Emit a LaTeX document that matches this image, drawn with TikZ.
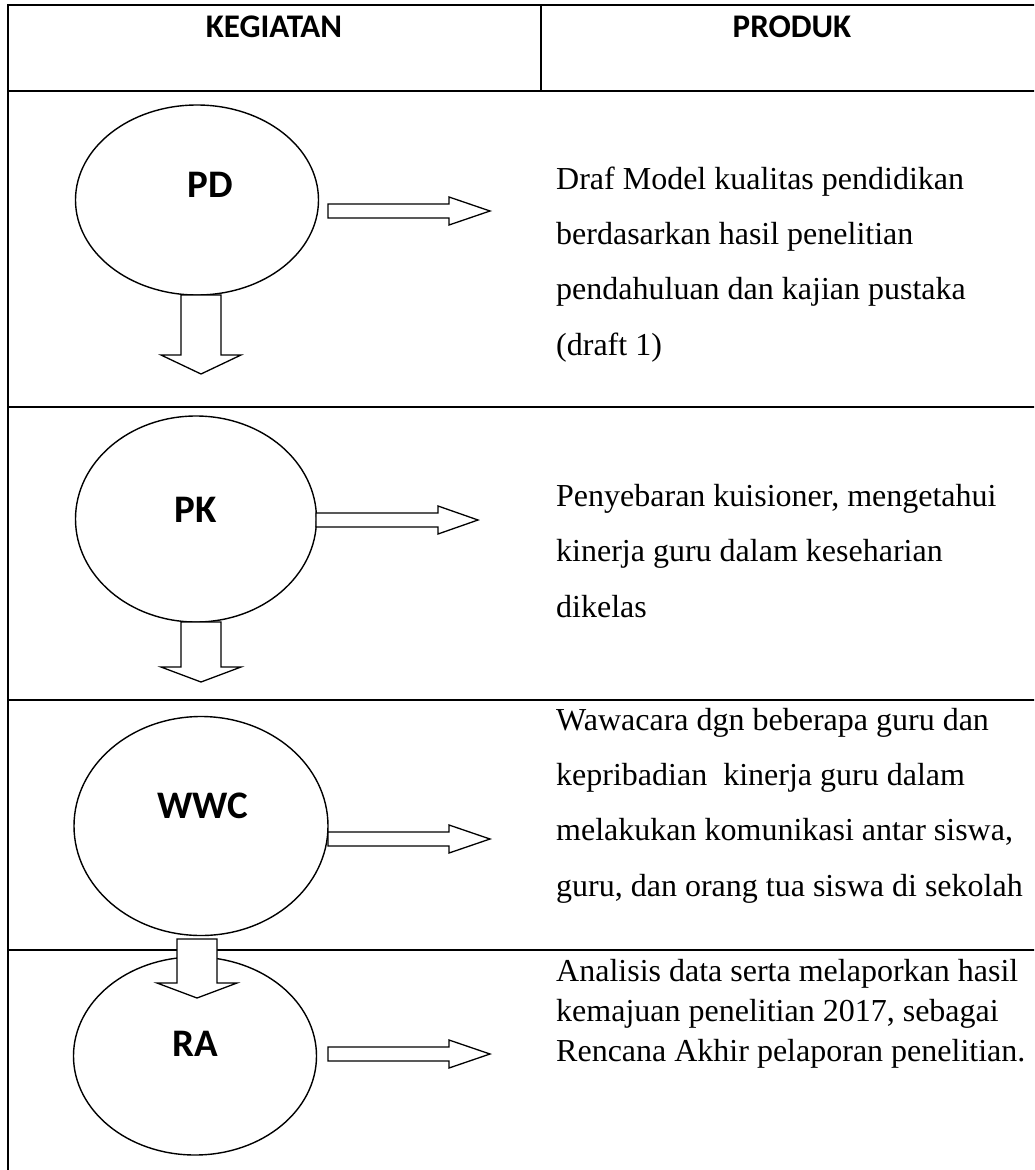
\documentclass[tikz,border=0pt]{standalone}
\usepackage{fontspec}
\setmainfont{Liberation Serif}
\newfontfamily\carlito{Carlito}
\usetikzlibrary{shapes.geometric}
\tikzset{
  tline/.style={line width=2.4pt, line cap=rect},
  oval/.style={draw, ellipse, line width=1.4pt, inner sep=0pt},
  ovallabel/.style={font=\carlito\bfseries\fontsize{39}{39}\selectfont, anchor=base, inner sep=0pt},
  headtxt/.style={font=\carlito\bfseries\fontsize{33}{33}\selectfont, anchor=base, inner sep=0pt},
  prod/.style={font=\fontsize{32}{55.3}\selectfont, anchor=base west, align=left, inner sep=0pt},
  prodtight/.style={font=\fontsize{32}{40}\selectfont, anchor=base west, align=left, inner sep=0pt},
  blockarrow/.style={draw, fill=white, line width=1.3pt, line join=miter},
}
\begin{document}
\begin{tikzpicture}[x=1pt,y=-1pt]
\useasboundingbox (0,0) rectangle (1034,1170);
\clip (0,0) rectangle (1034,1170);
\fill[white] (0,0) rectangle (1034,1170);

% table
\draw[tline] (8,5) -- (1040,5);
\draw[tline] (8,91) -- (1040,91);
\draw[tline] (8,407) -- (1040,407);
\draw[tline] (8,700) -- (1040,700);
\draw[tline] (8,950) -- (1040,950);
\draw[tline] (8,5) -- (8,1175);
\draw[tline] (541,5) -- (541,91);

% header
\node[headtxt] (hk) at (274,37) {KEGIATAN};
\node[headtxt] (hp) at (792,37) {PRODUK};

% ellipses
\node[oval, minimum width=243pt, minimum height=190pt] (pd) at (197,200) {};
\node[oval, minimum width=241pt, minimum height=206pt] (pk) at (196,519) {};
\node[oval, minimum width=254pt, minimum height=219pt] (wwc) at (201,826) {};
\node[oval, minimum width=243pt, minimum height=198pt] (ra) at (195,1056) {};

\node[ovallabel] (pdl) at (210,197) {PD};
\node[ovallabel] (pkl) at (196,522) {PK};
\node[ovallabel] (wwcl) at (203,818) {WWC};
\node[ovallabel] (ral) at (195,1056) {RA};

% right block arrows
\draw[blockarrow] (328,204) -- (449,204) -- (449,197) -- (490,211) -- (449,225) -- (449,218) -- (328,218) -- cycle;
\draw[blockarrow] (316,513) -- (438,513) -- (438,506) -- (478,520) -- (438,534) -- (438,527) -- (316,527) -- cycle;
\draw[blockarrow] (328,832) -- (449,832) -- (449,825) -- (490,839) -- (449,853) -- (449,846) -- (328,846) -- cycle;
\draw[blockarrow] (328,1047) -- (449,1047) -- (449,1040) -- (490,1054) -- (449,1068) -- (449,1061) -- (328,1061) -- cycle;

% down block arrows
\draw[blockarrow] (181,295) -- (221,295) -- (221,355) -- (241,355) -- (201,374) -- (161,355) -- (181,355) -- cycle;
\draw[blockarrow] (181,622) -- (221,622) -- (221,667) -- (241,667) -- (201,682) -- (161,667) -- (181,667) -- cycle;
\draw[blockarrow] (177,939) -- (217,939) -- (217,983) -- (237,983) -- (197,998) -- (157,983) -- (177,983) -- cycle;

% product texts (anchored at the baseline of the last line)
\node[prod] (t1) at (556,355) {Draf Model kualitas pendidikan\\berdasarkan hasil penelitian\\pendahuluan dan kajian pustaka\\(draft 1)};
\node[prod] (t2) at (556,617) {Penyebaran kuisioner, mengetahui\\kinerja guru dalam keseharian\\dikelas};
\node[prod] (t3) at (556,896) {Wawacara dgn beberapa guru dan\\kepribadian\ \ kinerja guru dalam\\melakukan komunikasi antar siswa,\\guru, dan orang tua siswa di sekolah};
\node[prodtight] (t4) at (556,1061) {Analisis data serta melaporkan hasil\\kemajuan penelitian 2017, sebagai\\Rencana Akhir pelaporan penelitian.};
\end{tikzpicture}
\end{document}
